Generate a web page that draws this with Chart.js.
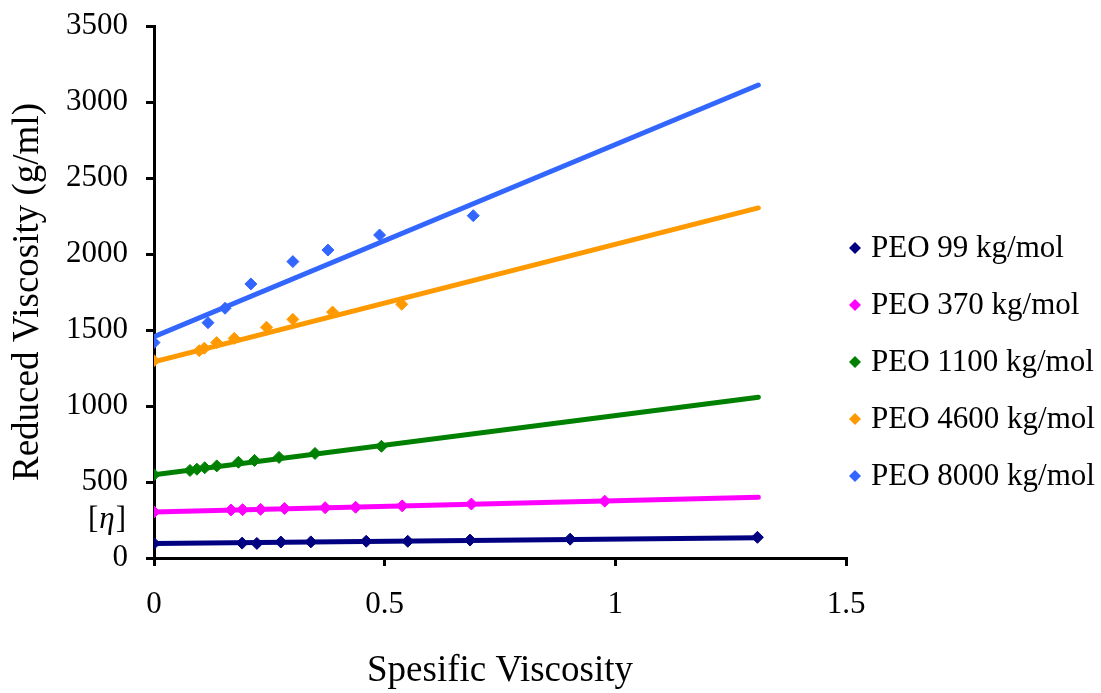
<!DOCTYPE html>
<html>
<head>
<meta charset="utf-8">
<script src="https://cdn.jsdelivr.net/npm/chart.js@4.4.1/dist/chart.umd.min.js"></script>
<style>
  html, body { margin: 0; padding: 0; background: #ffffff; }
  #wrap { position: relative; width: 1101px; height: 693px; }
</style>
</head>
<body>
<div id="wrap"><canvas id="c" width="1101" height="693"></canvas></div>
<script>
// ---- data ----
const seriesNames = ["PEO 99 kg/mol", "PEO 370 kg/mol", "PEO 1100 kg/mol", "PEO 4600 kg/mol", "PEO 8000 kg/mol"];
const seriesColors = ["#000080", "#FF00FF", "#008000", "#FF9900", "#3366FF"];

const x99   = [0, 0.191, 0.223, 0.275, 0.340, 0.460, 0.550, 0.685, 0.902, 1.308];
const y99   = [96, 98, 96, 105, 106, 110, 110, 118, 124, 136];

const x370  = [0, 0.167, 0.192, 0.231, 0.283, 0.371, 0.437, 0.538, 0.688, 0.977];
const y370  = [303, 316, 318, 320, 326, 331, 334, 343, 355, 374];

const x1100 = [0, 0.078, 0.093, 0.110, 0.136, 0.183, 0.218, 0.271, 0.349, 0.493];
const y1100 = [548, 576, 584, 594, 606, 630, 642, 662, 688, 735];

const x4600 = [0, 0.098, 0.109, 0.136, 0.174, 0.244, 0.301, 0.387, 0.537];
const y4600 = [1298, 1364, 1380, 1417, 1445, 1518, 1570, 1618, 1669];

const x8000 = [0, 0.117, 0.154, 0.210, 0.301, 0.377, 0.489, 0.692];
const y8000 = [1417, 1548, 1643, 1803, 1950, 2026, 2125, 2252];

// linear trend lines: [value at start, value at end] over fitRange
const fitRange = [0, 1.31];
const fit99   = [96, 134];
const fit370  = [303, 399];
const fit1100 = [547, 1058];
const fit4600 = [1290, 2303];
const fit8000 = [1456, 3112];

const xTicks = [0, 0.5, 1, 1.5];
const yTicks = [0, 500, 1000, 1500, 2000, 2500, 3000, 3500];
const intrinsicLabelValue = 253; // where the [η] label sits on the y axis

// ---- build datasets ----
const xs = [x99, x370, x1100, x4600, x8000];
const ys = [y99, y370, y1100, y4600, y8000];
const fits = [fit99, fit370, fit1100, fit4600, fit8000];

const pointSets = seriesNames.map((name, i) => ({
  type: 'scatter',
  label: name,
  data: xs[i].map((x, k) => ({ x: x, y: ys[i][k] })),
  backgroundColor: seriesColors[i],
  borderColor: seriesColors[i],
  borderWidth: 1,
  pointStyle: 'rectRot',
  pointRadius: 6,
  showLine: false
}));
const lineSets = seriesNames.map((name, i) => ({
  type: 'scatter',
  label: name + ' fit',
  data: fitRange.map((x, k) => ({ x: x, y: fits[i][k] })),
  borderColor: seriesColors[i],
  backgroundColor: seriesColors[i],
  borderWidth: 5,
  borderCapStyle: 'round',
  pointRadius: 0,
  showLine: true
}));

const FONT = "'Liberation Serif', 'Times New Roman', serif";

const extrasPlugin = {
  id: 'extras',
  afterDraw(chart) {
    const ctx = chart.ctx;
    const yS = chart.scales.y;
    ctx.save();
    // [η] label
    const ly = yS.getPixelForValue(intrinsicLabelValue);
    ctx.fillStyle = '#000';
    ctx.textBaseline = 'middle';
    ctx.font = "31px " + FONT;
    const wL = ctx.measureText('[').width;
    ctx.font = "italic 31px " + FONT;
    const wE = ctx.measureText('η').width;
    ctx.font = "31px " + FONT;
    const wR = ctx.measureText(']').width;
    let x0 = 126 - (wL + wE + wR + 2);
    ctx.textAlign = 'left';
    ctx.fillText('[', x0, ly);
    ctx.font = "italic 31px " + FONT;
    ctx.fillText('η', x0 + wL + 1, ly);
    ctx.font = "31px " + FONT;
    ctx.fillText(']', x0 + wL + wE + 2, ly);

    // legend
    const lx = 855, ly0 = 248, step = 57;
    seriesNames.forEach((name, i) => {
      const cy = ly0 + i * step;
      ctx.fillStyle = seriesColors[i];
      ctx.beginPath();
      ctx.moveTo(lx - 6, cy);
      ctx.lineTo(lx, cy - 6);
      ctx.lineTo(lx + 6, cy);
      ctx.lineTo(lx, cy + 6);
      ctx.closePath();
      ctx.fill();
      ctx.fillStyle = '#000';
      ctx.font = "31px " + FONT;
      ctx.textAlign = 'left';
      ctx.textBaseline = 'middle';
      ctx.fillText(name, lx + 16, cy + 1);
    });
    ctx.restore();
  }
};

const plainNum = (v) => String(v);

new Chart(document.getElementById('c'), {
  type: 'scatter',
  data: { datasets: pointSets.concat(lineSets) },
  options: {
    responsive: false,
    animation: false,
    devicePixelRatio: 1,
    layout: { padding: { top: 26, right: 255, left: 0, bottom: 0 } },
    plugins: {
      legend: { display: false },
      tooltip: { enabled: false }
    },
    scales: {
      x: {
        type: 'linear',
        min: 0, max: 1.5,
        afterBuildTicks: (s) => { s.ticks = xTicks.map(v => ({ value: v })); },
        afterFit: (s) => { s.height = 135; s.paddingLeft = 0; s.paddingRight = 0; },
        ticks: { color: '#000', font: { family: FONT, size: 31 }, padding: 20, maxRotation: 0, callback: plainNum },
        grid: { display: true, drawOnChartArea: false, drawTicks: true, tickLength: 8, color: '#000', lineWidth: 3 },
        border: { display: true, color: '#000', width: 3 },
        title: { display: true, text: 'Spesific Viscosity', color: '#000', font: { family: FONT, size: 37 }, padding: { top: 0, bottom: 0 } }
      },
      y: {
        type: 'linear',
        min: 0, max: 3500,
        afterBuildTicks: (s) => { s.ticks = yTicks.map(v => ({ value: v })); },
        afterFit: (s) => { s.width = 154; s.paddingTop = 0; s.paddingBottom = 0; },
        ticks: { color: '#000', font: { family: FONT, size: 31 }, padding: 18, callback: plainNum },
        grid: { display: true, drawOnChartArea: false, drawTicks: true, tickLength: 8, color: '#000', lineWidth: 3 },
        border: { display: true, color: '#000', width: 3 },
        title: { display: true, text: 'Reduced Viscosity (g/ml)', color: '#000', font: { family: FONT, size: 37 }, padding: { top: 6, bottom: 0 } }
      }
    }
  },
  plugins: [extrasPlugin]
});
</script>
</body>
</html>
